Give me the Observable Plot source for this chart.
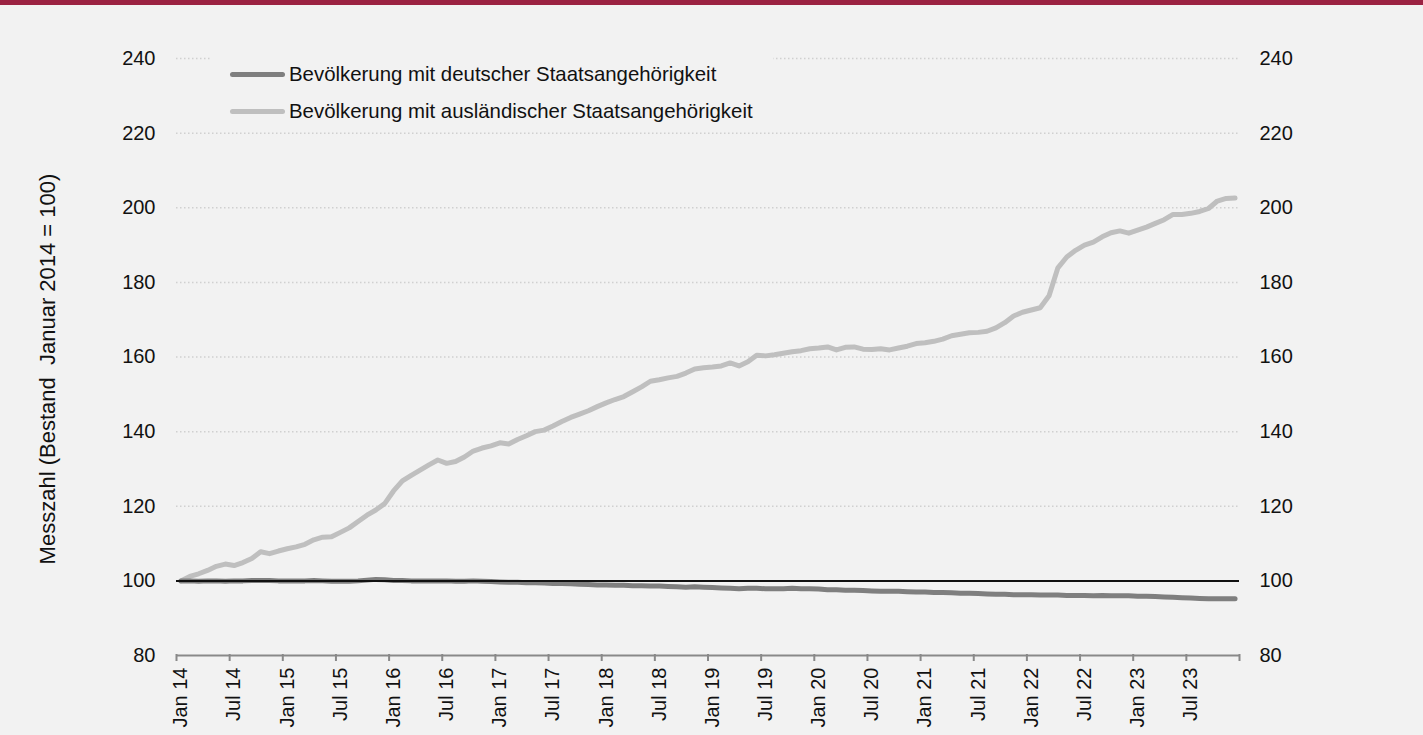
<!DOCTYPE html>
<html>
<head>
<meta charset="utf-8">
<script src="https://cdn.jsdelivr.net/npm/d3@7"></script>
<script src="https://cdn.jsdelivr.net/npm/@observablehq/plot@0.6"></script>
<style>
  html, body { margin: 0; padding: 0; background: #f2f2f2; }
  #band { height: 5px; background: #9b2242; }
  #wrap { position: relative; width: 1423px; }
  #legend { position: absolute; left: 210px; top: 46px; width: 563px; height: 72px; background: #f2f2f2;
            font-family: "Liberation Sans", Arial, sans-serif; font-size: 20.4px; color: #111; }
  .item { position: absolute; left: 20px; display: flex; align-items: center; height: 24px; }
  .sw { width: 55px; height: 5px; border-radius: 3px; margin-right: 4px; }
</style>
</head>
<body>
<div id="band"></div>
<div id="wrap"><div id="chart"></div><div id="legend"></div></div>
<script>
// Monthly index: Jan 2014 = 0 ... Dec 2023 = 119 (values: Messzahl, Bestand Januar 2014 = 100)
const seriesNames = ["Bevölkerung mit deutscher Staatsangehörigkeit", "Bevölkerung mit ausländischer Staatsangehörigkeit"];
const seriesColors = ["#7f7f7f", "#bfbfbf"];

const german = [
  100.0, 100.0, 99.9, 100.0, 100.0, 99.9, 100.0, 100.0, 100.1, 100.1,
  100.1, 100.0, 100.0, 100.0, 100.0, 100.1, 100.0, 99.9, 99.9, 99.9,
  100.0, 100.2, 100.4, 100.3, 100.1, 100.1, 100.0, 100.0, 100.0, 100.0,
  100.0, 99.9, 99.9, 100.0, 99.9, 99.8, 99.7, 99.6, 99.6, 99.5,
  99.5, 99.4, 99.3, 99.3, 99.2, 99.1, 99.0, 98.9, 98.9, 98.8,
  98.8, 98.7, 98.7, 98.6, 98.6, 98.5, 98.4, 98.3, 98.4, 98.3,
  98.2, 98.1, 98.0, 97.9, 98.0, 98.0, 97.9, 97.9, 97.9, 98.0,
  97.9, 97.9, 97.8, 97.6, 97.6, 97.5, 97.5, 97.4, 97.3, 97.2,
  97.2, 97.2, 97.1, 97.0, 97.0, 96.9, 96.9, 96.8, 96.7, 96.7,
  96.6, 96.5, 96.4, 96.4, 96.3, 96.3, 96.3, 96.2, 96.2, 96.2,
  96.1, 96.1, 96.1, 96.0, 96.1, 96.0, 96.0, 96.0, 95.9, 95.9,
  95.8, 95.7, 95.6, 95.5, 95.4, 95.3, 95.2, 95.2, 95.2, 95.2
];

const foreign = [
  100.0, 101.2, 101.9, 102.8, 103.9, 104.5, 104.1, 104.9, 106.0, 107.8,
  107.3, 108.0, 108.6, 109.1, 109.8, 111.0, 111.7, 111.8, 113.0, 114.2,
  115.9, 117.6, 119.0, 120.7, 124.1, 126.8, 128.3, 129.7, 131.1, 132.4,
  131.5, 132.0, 133.2, 134.8, 135.6, 136.2, 137.0, 136.7, 137.9, 138.9,
  140.0, 140.4, 141.5, 142.7, 143.8, 144.7, 145.6, 146.7, 147.7, 148.6,
  149.4, 150.7, 152.0, 153.5, 153.9, 154.4, 154.8, 155.7, 156.8, 157.1,
  157.3, 157.6, 158.4, 157.6, 158.7, 160.5, 160.3, 160.6, 161.0, 161.4,
  161.7, 162.2, 162.4, 162.7, 161.9, 162.6, 162.7, 162.1, 162.0, 162.2,
  161.9, 162.4, 162.9, 163.6, 163.8, 164.2, 164.8, 165.7, 166.1, 166.5,
  166.6, 166.9, 167.8, 169.2, 171.0, 172.0, 172.6, 173.2, 176.4, 183.9,
  186.8, 188.6, 190.0, 190.8, 192.2, 193.3, 193.8, 193.2, 194.0, 194.8,
  195.8, 196.8, 198.2, 198.2, 198.5, 199.0, 199.8, 201.8, 202.5, 202.6
];

const xTickLabels = ["Jan 14","Jul 14","Jan 15","Jul 15","Jan 16","Jul 16","Jan 17","Jul 17","Jan 18","Jul 18",
  "Jan 19","Jul 19","Jan 20","Jul 20","Jan 21","Jul 21","Jan 22","Jul 22","Jan 23","Jul 23"];
const yTicks = [80, 100, 120, 140, 160, 180, 200, 220, 240];
const gridValues = [120, 140, 160, 180, 200, 220, 240];
const referenceValue = [100];
const yTitle = "Messzahl (Bestand  Januar 2014 = 100)";

const monthsTotal = german.length;           // 120 categories
const tickPositions = d3.range(0, monthsTotal + 1, 6); // category boundaries every 6 months

const rowsG = german.map((v, i) => ({i: i + 0.5, v}));
const rowsF = foreign.map((v, i) => ({i: i + 0.5, v}));
const labelRows = xTickLabels.map((t, k) => ({i: k * 6 + 0.5, t}));

const font = "'Liberation Sans', Arial, sans-serif";

const chart = Plot.plot({
  width: 1423,
  height: 730,
  marginTop: 53,
  marginBottom: 80,
  marginLeft: 176,
  marginRight: 184,
  style: {background: "#f2f2f2", fontFamily: font, fontSize: "20px", color: "#111"},
  x: {type: "linear", domain: [0, monthsTotal], axis: null},
  y: {domain: [80, 240], axis: null},
  marks: [
    Plot.ruleY(gridValues, {stroke: "#d0d0d0", strokeWidth: 1.5, strokeDasharray: "1.5 2.5"}),
    Plot.axisY({anchor: "left", ticks: yTicks, tickSize: 0, tickPadding: 21, label: null, fontSize: 20, fill: "#111"}),
    Plot.axisY({anchor: "right", ticks: yTicks, tickSize: 0, tickPadding: 20, label: null, fontSize: 20, fill: "#111"}),
    Plot.lineY(rowsF, {x: "i", y: "v", stroke: seriesColors[1], strokeWidth: 5, strokeLinecap: "round", strokeLinejoin: "round"}),
    Plot.lineY(rowsG, {x: "i", y: "v", stroke: seriesColors[0], strokeWidth: 5, strokeLinecap: "round", strokeLinejoin: "round"}),
    Plot.ruleY(referenceValue, {stroke: "#111", strokeWidth: 2}),
    Plot.ruleX(tickPositions, {x: d => d, y1: 80, y2: 80, insetTop: -1, insetBottom: -6, stroke: "#898989", strokeWidth: 2}),
    Plot.ruleY([80], {stroke: "#898989", strokeWidth: 2}),
    Plot.text(labelRows, {x: "i", y: () => 80, text: "t", rotate: -90, textAnchor: "end", lineAnchor: "middle", dy: 12, fontSize: 20, fill: "#111"}),
    Plot.text([yTitle], {frameAnchor: "left", rotate: -90, textAnchor: "middle", lineAnchor: "middle", dx: -129, dy: 12, fontSize: 22, fill: "#111"})
  ]
});
document.getElementById("chart").appendChild(chart);

const legend = document.getElementById("legend");
seriesNames.forEach((name, k) => {
  const item = document.createElement("div");
  item.className = "item";
  item.style.top = (k === 0 ? 11 : 48) + "px";
  const sw = document.createElement("div");
  sw.className = "sw";
  sw.style.background = seriesColors[k];
  const tx = document.createElement("span");
  tx.textContent = name;
  item.appendChild(sw); item.appendChild(tx);
  legend.appendChild(item);
});
</script>
</body>
</html>
